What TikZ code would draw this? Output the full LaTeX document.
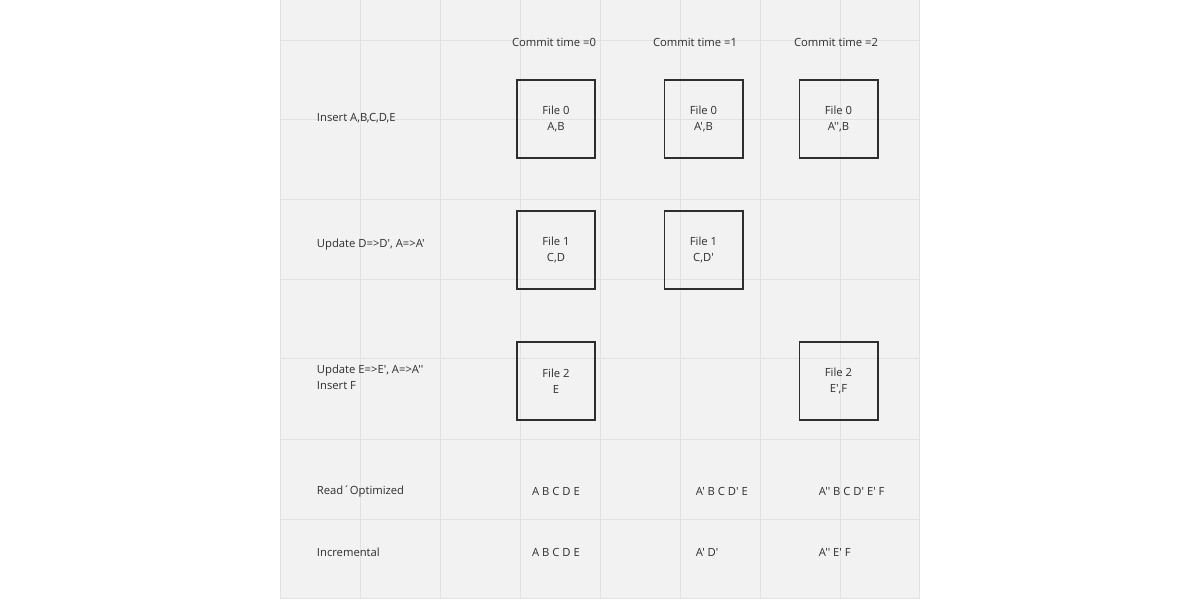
\documentclass[tikz,border=0pt]{standalone}
\usepackage{fontspec}
\setmainfont{Open Sans}[Ligatures=TeXOff]
\definecolor{boardgray}{HTML}{F2F2F2}
\definecolor{gridgray}{HTML}{E2E2E2}
\definecolor{inkgray}{HTML}{2E2E2E}
\tikzset{
  filebox/.style={draw=inkgray,line width=1.4pt,minimum size=1.95cm,align=center,
    text=inkgray,font=\fontsize{8}{11.3}\selectfont},
  rowlabel/.style={anchor=west,align=left,text=inkgray,font=\fontsize{8}{11.3}\selectfont},
  celltext/.style={text=inkgray,font=\fontsize{8}{11.3}\selectfont}
}
\begin{document}
\begin{tikzpicture}[x=0.025cm,y=0.025cm]
   \useasboundingbox (0,0) rectangle (1200,-600);
   \fill [boardgray] (280,0) rectangle (920,-599);
   % grid
   \draw [gridgray,line width=0.7pt] (280,0) -- (280,-599);
   \draw [gridgray,line width=0.7pt] (360,0) -- (360,-599);
   \draw [gridgray,line width=0.7pt] (440,0) -- (440,-599);
   \draw [gridgray,line width=0.7pt] (520,0) -- (520,-599);
   \draw [gridgray,line width=0.7pt] (600,0) -- (600,-599);
   \draw [gridgray,line width=0.7pt] (680,0) -- (680,-599);
   \draw [gridgray,line width=0.7pt] (760,0) -- (760,-599);
   \draw [gridgray,line width=0.7pt] (840,0) -- (840,-599);
   \draw [gridgray,line width=0.7pt] (919,0) -- (919,-599);
   \draw [gridgray,line width=0.7pt] (280,-40) -- (920,-40);
   \draw [gridgray,line width=0.7pt] (280,-119) -- (920,-119);
   \draw [gridgray,line width=0.7pt] (280,-199) -- (920,-199);
   \draw [gridgray,line width=0.7pt] (280,-279) -- (920,-279);
   \draw [gridgray,line width=0.7pt] (280,-358) -- (920,-358);
   \draw [gridgray,line width=0.7pt] (280,-439) -- (920,-439);
   \draw [gridgray,line width=0.7pt] (280,-519) -- (920,-519);
   \draw [gridgray,line width=0.7pt] (280,-598) -- (920,-598);
   % commit times
   \node [celltext] (t0) at (554,-42) {Commit time =0};
   \node [celltext] (t1) at (695,-42) {Commit time =1};
   \node [celltext] (t2) at (836,-42) {Commit time =2};
   % operations
   \node [rowlabel] (ins) at (312,-118.5) {Insert A,B,C,D,E};
   \node [rowlabel] (upd1) at (312,-244.5) {Update D=>D', A=>A'};
   \node [rowlabel] (upd2) at (312,-377.5) {Update E=>E', A=>A''\\Insert F};
   % file slices
   \node [filebox] (f00) at (556,-119) {File 0\\A,B};
   \node [filebox] (f01) at (703.5,-119) {File 0\\A',B};
   \node [filebox] (f02) at (838.5,-119) {File 0\\A'',B};
   \node [filebox] (f10) at (556,-250) {File 1\\C,D};
   \node [filebox] (f11) at (703.5,-250) {File 1\\C,D'};
   \node [filebox] (f20) at (556,-381) {File 2\\E};
   \node [filebox] (f22) at (838.5,-381) {File 2\\E',F};
   % queries
   \node [rowlabel] (ro) at (312,-491.5) {Read´Optimized};
   \node [rowlabel] (inc) at (312,-552) {Incremental};
   \node [celltext] (ro0) at (556,-491.5) {A B C D E};
   \node [celltext,anchor=west] (ro1) at (691,-491.5) {A' B C D' E};
   \node [celltext,anchor=west] (ro2) at (814,-491.5) {A'' B C D' E' F};
   \node [celltext] (inc0) at (556,-552) {A B C D E};
   \node [celltext,anchor=west] (inc1) at (691,-552) {A' D'};
   \node [celltext,anchor=west] (inc2) at (814,-552) {A'' E' F};
\end{tikzpicture}
\end{document}
